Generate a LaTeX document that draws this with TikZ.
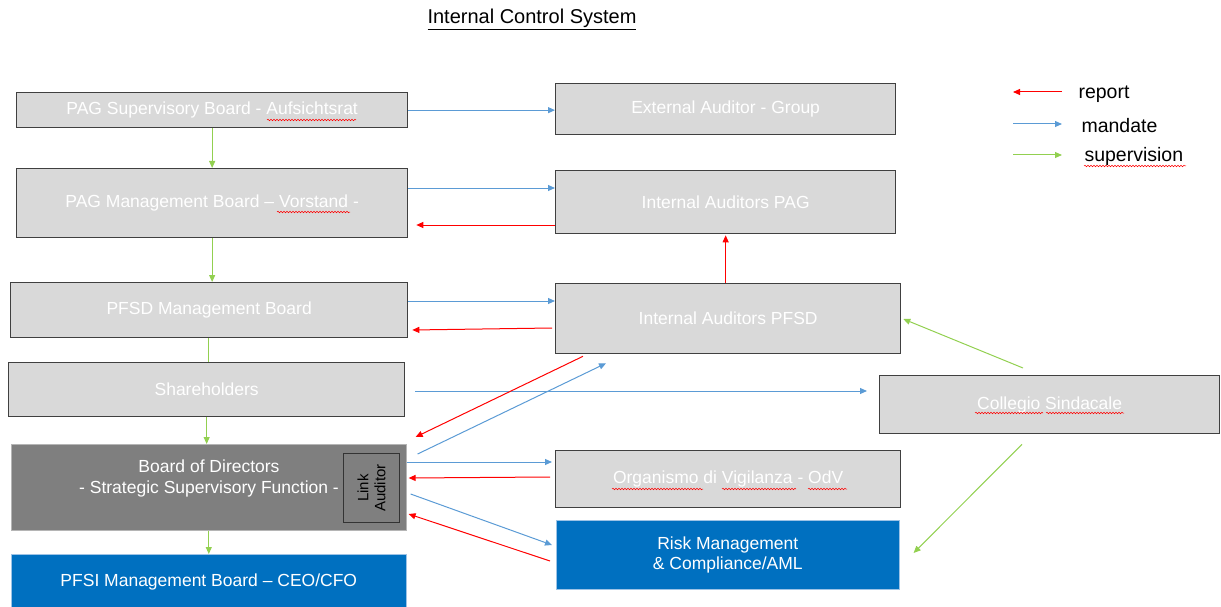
\documentclass[tikz,border=0pt]{standalone}
\usepackage{fontspec}
\setmainfont{Liberation Sans}
\usetikzlibrary{arrows.meta,calc,decorations.pathmorphing}
\definecolor{boxgray}{HTML}{D9D9D9}
\definecolor{boxborder}{HTML}{404040}
\definecolor{bodgray}{HTML}{7F7F7F}
\definecolor{corpblue}{HTML}{0070C0}
\definecolor{mandblue}{HTML}{5B9BD5}
\definecolor{repred}{HTML}{FF0000}
\definecolor{supgreen}{HTML}{92D050}
\begin{document}
\begin{tikzpicture}[x=1pt,y=-1pt,
  box/.style={draw=boxborder, line width=1.3pt, fill=boxgray, text=white, inner sep=0pt, anchor=north west, align=center, font=\fontsize{17.5}{20}\selectfont},
  darkbox/.style={box, draw=boxgray!60!bodgray, line width=0.6pt, fill=bodgray},
  bluebox/.style={box, draw=mandblue!60, line width=0.6pt, fill=corpblue},
  tip/.style={-{Triangle[length=7pt,width=6pt]}},
  mandate/.style={tip, draw=mandblue, line width=1pt},
  report/.style={tip, draw=repred, line width=1pt},
  superv/.style={tip, draw=supgreen, line width=1pt},
  supline/.style={draw=supgreen, line width=1pt},
  legtext/.style={anchor=west, font=\fontsize{19.5}{22}\selectfont},
  squig/.style={draw=repred, line width=0.5pt, decorate, decoration={snake, amplitude=0.8pt, segment length=3pt}}
]
\useasboundingbox (0,0) rectangle (1221,607);

% title
\node[font=\fontsize{20}{22}\selectfont, anchor=center] (title) at (532,19) {\underline{Internal Control System}};

% left column
\node[box, minimum width=391, minimum height=35] (pagsup) at (16,92) {PAG Supervisory Board - Aufsichtsrat};
\node[box, minimum width=391, minimum height=69] (pagmgmt) at (16,168) {PAG Management Board -- Vorstand -};
\node[box, minimum width=397, minimum height=55] (pfsd) at (10,282) {PFSD Management Board};
\node[box, minimum width=396, minimum height=54] (share) at (8,362) {Shareholders};
\node[darkbox, minimum width=395, minimum height=86] (bod) at (11,444) {};
\node[text=white, align=center, font=\fontsize{17.5}{21}\selectfont] (bodtxt) at (209,478) {Board of Directors\\- Strategic Supervisory Function -};
\node[box, fill=bodgray, draw=black!80, line width=1.2pt, minimum width=56, minimum height=69, text=black] (link) at (343,453) {};
\node[rotate=90, text=black, align=center, font=\fontsize{15}{17}\selectfont] (linktxt) at (link.center) {Link\\Auditor};
\node[bluebox, minimum width=395, minimum height=56] (pfsi) at (11,554) {PFSI Management Board -- CEO/CFO};

% middle column
\node[box, minimum width=340, minimum height=51] (extaud) at (555,83) {External Auditor - Group};
\node[box, minimum width=340, minimum height=63] (iapag) at (555,170) {Internal Auditors PAG};
\node[box, minimum width=345, minimum height=70] (iapfsd) at (555,283) {Internal Auditors PFSD};
\node[box, minimum width=345, minimum height=57] (odv) at (555,450) {Organismo di Vigilanza - OdV};
\node[bluebox, minimum width=343, minimum height=69, font=\fontsize{17.5}{20}\selectfont] (risk) at (556,520) {Risk Management\\\& Compliance/AML};

% right
\node[box, minimum width=340, minimum height=58] (coll) at (879,375) {Collegio Sindacale};

% legend
\coordinate (lga) at (1013,92);
\coordinate (lgb) at (1062,92);
\coordinate (lgc) at (1013,124);
\coordinate (lgd) at (1062,124);
\coordinate (lge) at (1013,155);
\coordinate (lgf) at (1062,155);
\draw[report] (lgb) -- (lga);
\draw[mandate] (lgc) -- (lgd);
\draw[superv] (lge) -- (lgf);
\node[legtext] (lgrep) at (1075,94) {report};
\node[legtext] (lgman) at (1078,126) {mandate};
\node[legtext] (lgsup) at (1081,156) {supervision};

% supervision (green) vertical chain
\draw[superv] (pagsup.south) -- (pagsup.south |- pagmgmt.north);
\draw[superv] (pagmgmt.south) -- (pagmgmt.south |- pfsd.north);
\draw[supline] ($(pfsd.south)+(-0.5,0)$) -- ($(pfsd.south |- share.north)+(-0.5,0)$);
\draw[superv] (share.south) -- (share.south |- bod.north);
\draw[superv] (bod.south) -- (bod.south |- pfsi.north);
\draw[superv] ($(coll.north west)+(144,-7)$) -- ($(iapfsd.north east)+(2,36)$);
\draw[superv] ($(coll.south west)+(143,10)$) -- ($(risk.north east)+(14,33)$);

% mandate (blue)
\coordinate (m2s) at ($(pagmgmt.north east)+(0,20)$);
\coordinate (m3s) at ($(pfsd.north east)+(0,19)$);
\draw[mandate] (pagsup.east) -- (pagsup.east -| extaud.west);
\draw[mandate] (m2s) -- (m2s -| iapag.west);
\draw[mandate] (m3s) -- (m3s -| iapfsd.west);
\draw[mandate] ($(share.north east)+(10,29)$) -- ($(coll.north west)+(-12,16)$);
\draw[mandate] ($(bod.north east)+(11,10)$) -- ($(iapfsd.south west)+(51,9)$);
\draw[mandate] ($(bod.north east)+(0,18)$) -- ($(odv.north west)+(-3,12)$);
\draw[mandate] ($(bod.north east)+(4,50)$) -- ($(risk.north west)+(-4,25)$);

% report (red)
\draw[report] ($(iapag.north west)+(0,55)$) -- ($(pagmgmt.north east)+(8,57)$);
\draw[report] ($(iapfsd.north west)+(-3,45)$) -- ($(pfsd.north east)+(4,48)$);
\draw[report] ($(iapfsd.south west)+(28,2)$) -- ($(bod.north east)+(9,-7)$);
\draw[report] ($(odv.north west)+(-5,27)$) -- ($(bod.north east)+(2,34)$);
\draw[report] ($(risk.north west)+(-6,41)$) -- ($(bod.north east)+(2,70)$);
\draw[report] (iapfsd.north -| iapag.south) -- ($(iapag.south)+(0,1)$);

% spell-check squiggles
\draw[squig] (267,120) -- (356,120);
\draw[squig] (277,212) -- (350,212);
\draw[squig] (612,489) -- (703,489);
\draw[squig] (722,489) -- (796,489);
\draw[squig] (808,489) -- (847,489);
\draw[squig] (975,413) -- (1043,413);
\draw[squig] (1046,413) -- (1124,413);
\draw[squig] (1084,166) -- (1186,166);
\end{tikzpicture}
\end{document}
